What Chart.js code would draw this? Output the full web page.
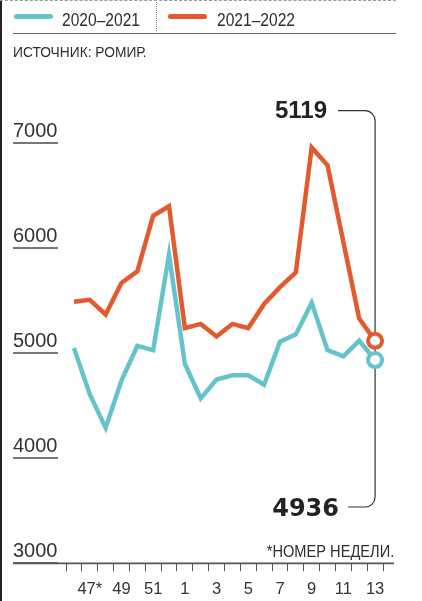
<!DOCTYPE html>
<html><head><meta charset="utf-8">
<script src="https://cdn.jsdelivr.net/npm/chart.js@4.4.1/dist/chart.umd.min.js"></script>
<style>
html,body{margin:0;padding:0;background:#fff;}
#wrap{position:relative;width:422px;height:601px;overflow:hidden;background:#fff;}
canvas{position:absolute;left:0;top:0;}
.t{position:absolute;white-space:nowrap;color:#2e2e2e;font-family:"Liberation Sans Narrow","Liberation Sans",Arial,sans-serif;}
.ln{position:absolute;}
</style></head><body>
<div id="wrap">
<canvas id="c" width="422" height="601"></canvas>
<div class="ln" style="left:0;top:0;width:2px;height:601px;background:#222;"></div>
<div class="ln" style="left:0;top:0;width:396px;height:0;border-top:1px dashed #999;"></div>
<div class="ln" style="left:155.5px;top:0;width:0;height:31px;border-left:1.5px dotted #888;"></div>
<div class="ln" style="left:13px;top:33px;width:383px;height:0;border-top:1.5px solid #666;"></div>
<div class="ln" style="left:14px;top:13.5px;width:39px;height:5px;border-radius:3px;background:#64c3cb;"></div>
<div class="ln" style="left:168px;top:13.5px;width:39px;height:5px;border-radius:3px;background:#e35a2f;"></div>
<div class="t" id="lg0" style="left:62px;top:10px;font-size:19px;line-height:19px;transform:scaleX(0.82);transform-origin:0 0;"></div>
<div class="t" id="lg1" style="left:217px;top:10px;font-size:19px;line-height:19px;transform:scaleX(0.82);transform-origin:0 0;"></div>
<div class="t" style="left:13px;top:44.5px;font-size:14.5px;line-height:14.5px;transform:scaleX(0.95);transform-origin:0 0;">ИСТОЧНИК: РОМИР.</div>
<div class="t" style="right:28px;top:542.5px;font-size:17px;line-height:17px;transform:scaleX(0.86);transform-origin:100% 0;">*НОМЕР НЕДЕЛИ.</div>
</div>
<script>
const weeks = [46,47,48,49,50,51,52,1,2,3,4,5,6,7,8,9,10,11,12,13];
const tickLabels = ['', '47*', '', '49', '', '51', '', '1', '', '3', '', '5', '', '7', '', '9', '', '11', '', '13'];
const seriesNames = ['2020–2021', '2021–2022'];
const series2020 = [5050,4610,4290,4740,5070,5030,5940,4900,4570,4750,4790,4790,4700,5110,5180,5480,5030,4970,5120,4936];
const series2021 = [5490,5510,5370,5670,5780,6310,6400,5240,5280,5160,5280,5240,5470,5630,5770,6960,6790,6060,5330,5119];
const yTicks = [3000,4000,5000,6000,7000];

const tealC = '#64c3cb', orangeC = '#e35a2f';
const n = weeks.length;
document.getElementById('lg0').textContent = seriesNames[0];
document.getElementById('lg1').textContent = seriesNames[1];

const deco = {
  id: 'deco',
  beforeDatasetsDraw(chart) {
    const {ctx, scales: {x, y}} = chart;
    const xs = x.getPixelForValue(n - 1);
    const y0 = y.getPixelForValue(yTicks[0]);
    ctx.save();
    ctx.strokeStyle = '#555'; ctx.lineWidth = 1.8;
    ctx.beginPath(); ctx.moveTo(13, y0); ctx.lineTo(394, y0); ctx.stroke();
    const yt = 110.7, yb = 507, r = 10;
    ctx.strokeStyle = '#333'; ctx.lineWidth = 1.2;
    ctx.beginPath();
    ctx.moveTo(338, yt); ctx.lineTo(xs - r, yt);
    ctx.arcTo(xs, yt, xs, yt + r, r);
    ctx.lineTo(xs, yb - r);
    ctx.arcTo(xs, yb, xs - r, yb, r);
    ctx.lineTo(348, yb);
    ctx.stroke();
    ctx.restore();
  },
  afterDraw(chart) {
    const ctx = chart.ctx;
    ctx.save();
    ctx.fillStyle = '#222';
    ctx.textAlign = 'right'; ctx.textBaseline = 'alphabetic';
    ctx.font = 'bold 24px "Liberation Sans", Arial, sans-serif';
    ctx.fillText(String(series2021[n - 1]), 327, 118);
    ctx.font = 'bold 24px "DejaVu Sans", sans-serif';
    ctx.fillText(String(series2020[n - 1]), 339, 516);
    ctx.restore();
  }
};

const ptR = c => c.dataIndex === n - 1 ? 7 : 0;

new Chart(document.getElementById('c'), {
  type: 'line',
  data: {
    labels: weeks.map(String),
    datasets: [
      {label: seriesNames[1], data: series2021, borderColor: orangeC, borderWidth: 4.5,
       pointRadius: ptR, pointHoverRadius: ptR, pointBackgroundColor: '#fff', pointBorderColor: orangeC,
       pointBorderWidth: 4, tension: 0, order: 0, clip: false},
      {label: seriesNames[0], data: series2020, borderColor: tealC, borderWidth: 4.5,
       pointRadius: ptR, pointHoverRadius: ptR, pointBackgroundColor: '#fff', pointBorderColor: tealC,
       pointBorderWidth: 4, tension: 0, order: 1, clip: false}
    ]
  },
  options: {
    responsive: false, animation: false, events: [],
    layout: {padding: {left: 13, right: 39, top: 143.3, bottom: 0}},
    plugins: {legend: {display: false}, tooltip: {enabled: false}},
    scales: {
      x: {
        type: 'category', offset: true,
        grid: {offset: true, drawOnChartArea: false, drawTicks: true, tickLength: 8, color: '#555', lineWidth: 1},
        border: {display: false},
        ticks: {autoSkip: false, maxRotation: 0, minRotation: 0, padding: 8, color: '#333',
                font: {family: '"Liberation Sans Narrow","Liberation Sans",Arial,sans-serif', size: 16.5},
                callback: (v, i) => tickLabels[i]},
        afterFit: s => { s.height = 37.7; }
      },
      y: {
        min: yTicks[0], max: yTicks[yTicks.length - 1],
        afterBuildTicks: s => { s.ticks = yTicks.map(v => ({value: v})); },
        grid: {drawOnChartArea: false, drawTicks: true, tickLength: 53, tickBorderDash: [45, 100], color: '#777', lineWidth: 2},
        border: {display: false},
        ticks: {crossAlign: 'far', labelOffset: -12, padding: 0, color: '#333',
                font: {family: '"Liberation Sans", Arial, sans-serif', size: 20},
                callback: v => String(v)},
        afterFit: s => { s.width = 53; }
      }
    }
  },
  plugins: [deco]
});
</script>
</body></html>
